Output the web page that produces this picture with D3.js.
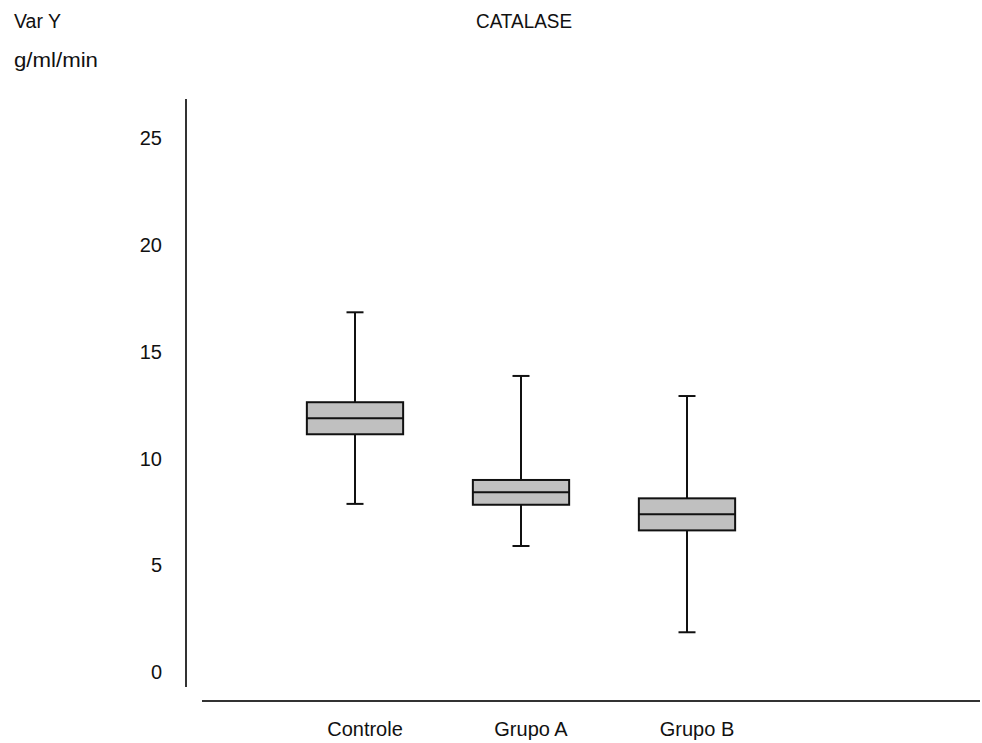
<!DOCTYPE html>
<html>
<head>
<meta charset="utf-8">
<script src="https://cdn.jsdelivr.net/npm/d3@7"></script>
<style>
  body { margin: 0; background: #fff; }
  text { font-family: "Liberation Sans", Arial, sans-serif; font-size: 20px; fill: #111; }
</style>
</head>
<body>
<div id="chart"></div>
<script>
// data
var groups = ["Controle", "Grupo A", "Grupo B"];
var whiskerLow = [7.87, 5.9, 1.86];
var q1 = [11.13, 7.83, 6.63];
var median = [11.88, 8.41, 7.38];
var q3 = [12.63, 8.99, 8.13];
var whiskerHigh = [16.84, 13.86, 12.92];
var yTicks = [0, 5, 10, 15, 20, 25];

var svgWidth = 982;
var svgHeight = 743;

var svg = d3.select("#chart")
  .append("svg")
  .attr("width", svgWidth)
  .attr("height", svgHeight);

// scales
var yScale = d3.scaleLinear()
  .domain([0, 25])
  .range([672, 138]);

var xScale = d3.scaleBand()
  .domain(groups)
  .range([272, 770])
  .padding(0);

var boxW = xScale.bandwidth() * 0.58;
var capW = 17;

// axis lines (no tick marks)
svg.append("line")
  .attr("x1", 186).attr("x2", 186)
  .attr("y1", 99).attr("y2", 687)
  .attr("stroke", "#333").attr("stroke-width", 2);

svg.append("line")
  .attr("x1", 202).attr("x2", 980)
  .attr("y1", 701).attr("y2", 701)
  .attr("stroke", "#333").attr("stroke-width", 2);

// y tick labels
svg.selectAll(".ytick")
  .data(yTicks)
  .enter()
  .append("text")
  .attr("class", "ytick")
  .attr("x", 162)
  .attr("y", d => yScale(d))
  .attr("dy", "0.36em")
  .attr("text-anchor", "end")
  .text(d => d);

// x labels
svg.selectAll(".xlab")
  .data(groups)
  .enter()
  .append("text")
  .attr("class", "xlab")
  .attr("x", d => xScale(d) + xScale.bandwidth() / 2 + 10)
  .attr("y", 736)
  .attr("text-anchor", "middle")
  .text(d => d);

// boxes
var boxData = groups.map((g, i) => ({
  name: g, lo: whiskerLow[i], q1: q1[i], med: median[i], q3: q3[i], hi: whiskerHigh[i]
}));

var box = svg.selectAll(".box")
  .data(boxData)
  .enter()
  .append("g")
  .attr("class", "box");

var cx = d => xScale(d.name) + xScale.bandwidth() / 2;

// whisker stem
box.append("line")
  .attr("x1", cx).attr("x2", cx)
  .attr("y1", d => yScale(d.hi))
  .attr("y2", d => yScale(d.lo))
  .attr("stroke", "#111").attr("stroke-width", 2);

// caps
box.append("line")
  .attr("x1", d => cx(d) - capW / 2).attr("x2", d => cx(d) + capW / 2)
  .attr("y1", d => yScale(d.hi)).attr("y2", d => yScale(d.hi))
  .attr("stroke", "#111").attr("stroke-width", 2);
box.append("line")
  .attr("x1", d => cx(d) - capW / 2).attr("x2", d => cx(d) + capW / 2)
  .attr("y1", d => yScale(d.lo)).attr("y2", d => yScale(d.lo))
  .attr("stroke", "#111").attr("stroke-width", 2);

// box
box.append("rect")
  .attr("x", d => cx(d) - boxW / 2)
  .attr("width", boxW)
  .attr("y", d => yScale(d.q3))
  .attr("height", d => yScale(d.q1) - yScale(d.q3))
  .attr("fill", "#c0c0c0")
  .attr("stroke", "#111").attr("stroke-width", 2);

// median
box.append("line")
  .attr("x1", d => cx(d) - boxW / 2).attr("x2", d => cx(d) + boxW / 2)
  .attr("y1", d => yScale(d.med)).attr("y2", d => yScale(d.med))
  .attr("stroke", "#111").attr("stroke-width", 2);

// titles (condensed to match the narrow original font)
svg.append("text")
  .attr("x", 476).attr("y", 28)
  .attr("textLength", 96)
  .attr("lengthAdjust", "spacingAndGlyphs")
  .text("CATALASE");

svg.append("text")
  .attr("x", 14).attr("y", 28)
  .attr("textLength", 47)
  .attr("lengthAdjust", "spacingAndGlyphs")
  .text("Var Y");

svg.append("text")
  .attr("x", 14).attr("y", 67)
  .attr("textLength", 84)
  .attr("lengthAdjust", "spacingAndGlyphs")
  .text("g/ml/min");
</script>
</body>
</html>
